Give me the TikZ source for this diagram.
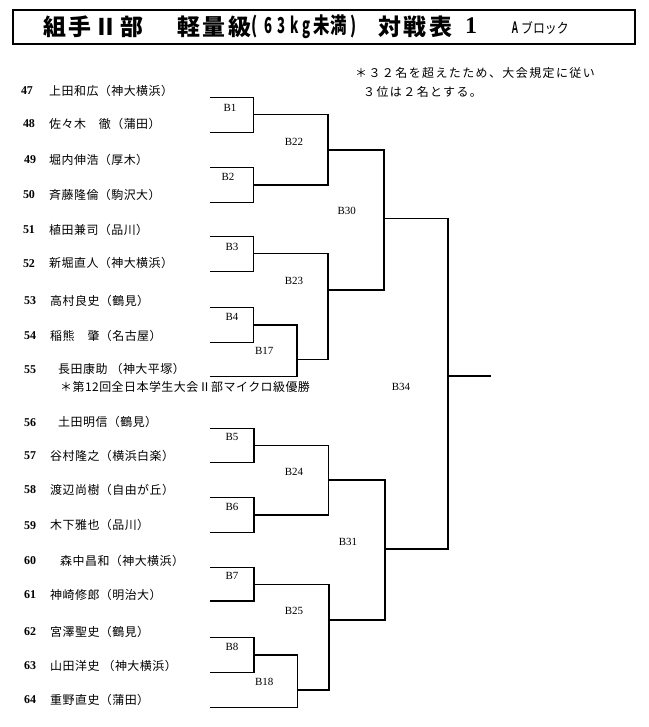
\documentclass[tikz,border=0pt]{standalone}
\usepackage{fontspec}
\setmainfont{Liberation Serif}
\newfontfamily\jp{Noto Sans CJK JP}[LetterSpace=4]
\newfontfamily\jpn{Noto Sans CJK JP}[LetterSpace=12]
\newfontfamily\jpt{Noto Sans CJK JP}[LetterSpace=12]
\newfontfamily\jpk{Noto Sans CJK JP}
\newfontfamily\lsans{Liberation Sans}
\begin{document}
\begin{tikzpicture}[x=1bp,y=-1bp,
  br/.style={line width=1.5bp, line join=miter, line cap=rect},
  num/.style={anchor=center, inner sep=0pt, font=\bfseries\fontsize{12}{12}\selectfont},
  nm/.style={anchor=west, inner sep=0pt, font=\jp\fontsize{12}{12}\selectfont},
  note/.style={anchor=west, inner sep=0pt, font=\jpn\fontsize{12}{12}\selectfont},
  lbl/.style={anchor=center, inner sep=0pt, font=\fontsize{11}{11}\selectfont},
  ttl/.style={anchor=base west, inner sep=0pt, font=\jpt\bfseries\fontsize{23}{23}\selectfont},
  ttg/.style={anchor=base, inner sep=0pt, font=\jpk\bfseries\fontsize{22}{22}\selectfont}]
\fill[white] (0,0) rectangle (649,727);
\useasboundingbox (0,0) rectangle (649,727);

% title
\node[draw, line width=1.8bp, minimum width=622bp, minimum height=34bp, inner sep=0pt] (titlebox) at (324,27) {};
\node[ttl] (t1) at (43,35.5) {組手Ⅱ部};
\node[ttl] (t2) at (177,35.5) {軽量級};
\node[ttg] (t3a) at (255,34) {\scalebox{0.7}[1]{(}};
\node[ttg] (t3b) at (268.5,34) {\scalebox{0.6}[1]{6}};
\node[ttg] (t3c) at (281.5,34) {\scalebox{0.6}[1]{3}};
\node[ttg] (t3d) at (295,34) {\scalebox{0.6}[1]{k}};
\node[ttg] (t3e) at (306.5,34) {\scalebox{0.6}[1]{g}};
\node[ttg] (t3f) at (330,34) {\scalebox{0.75}[1]{未満}};
\node[ttg] (t3g) at (354,34) {\scalebox{0.7}[1]{)}};
\node[ttl] (t4) at (378,35.5) {対戦表};
\node[anchor=base, inner sep=0pt, font=\bfseries\fontsize{24}{24}\selectfont] (t5) at (471,34) {1};
\node[anchor=base, inner sep=0pt, font=\lsans\bfseries\fontsize{17}{17}\selectfont] (t6) at (515,33.5) {\scalebox{0.55}[1]{A}};
\node[anchor=base west, inner sep=0pt, font=\jpk\fontsize{14}{14}\selectfont] (t7) at (521,33.5) {\scalebox{0.85}[1]{ブロック}};

% top-right note
\node[note] (nt1) at (355,73) {＊３２名を超えたため、大会規定に従い};
\node[note] (nt2) at (363,92) {３位は２名とする。};

% entries
\node[num] (n47) at (27,90.7) {47}; \node[nm] (p47) at (49,90.7) {上田和広（神大横浜）};
\node[num] (n48) at (29,124) {48}; \node[nm] (p48) at (49,124) {佐々木　徹（蒲田）};
\node[num] (n49) at (30,160) {49}; \node[nm] (p49) at (49,160) {堀内伸浩（厚木）};
\node[num] (n50) at (29,195) {50}; \node[nm] (p50) at (49,195) {斉藤隆倫（駒沢大）};
\node[num] (n51) at (29,230) {51}; \node[nm] (p51) at (49,230) {植田兼司（品川）};
\node[num] (n52) at (29,263.3) {52}; \node[nm] (p52) at (49,263.3) {新堀直人（神大横浜）};
\node[num] (n53) at (30,300.7) {53}; \node[nm] (p53) at (50,300.7) {高村良史（鶴見）};
\node[num] (n54) at (30,336) {54}; \node[nm] (p54) at (50,336) {稲熊　肇（名古屋）};
\node[num] (n55) at (30,369.3) {55}; \node[nm] (p55) at (58,369.3) {長田康助 （神大平塚）};
\node[nm] (p55n) at (60,386.7) {＊第12回全日本学生大会Ⅱ部マイクロ級優勝};
\node[num] (n56) at (30,422.3) {56}; \node[nm] (p56) at (58,422.3) {土田明信（鶴見）};
\node[num] (n57) at (30,455.7) {57}; \node[nm] (p57) at (50,455.7) {谷村隆之（横浜白楽）};
\node[num] (n58) at (30,490) {58}; \node[nm] (p58) at (50,490) {渡辺尚樹（自由が丘）};
\node[num] (n59) at (30,525.3) {59}; \node[nm] (p59) at (50,525.3) {木下雅也（品川）};
\node[num] (n60) at (30,561) {60}; \node[nm] (p60) at (60,561) {森中昌和（神大横浜）};
\node[num] (n61) at (30,595) {61}; \node[nm] (p61) at (50,595) {神崎修郎（明治大）};
\node[num] (n62) at (30,631.7) {62}; \node[nm] (p62) at (50,631.7) {宮澤聖史（鶴見）};
\node[num] (n63) at (30,665.7) {63}; \node[nm] (p63) at (50,665.7) {山田洋史 （神大横浜）};
\node[num] (n64) at (30,700) {64}; \node[nm] (p64) at (50,700) {重野直史（蒲田）};

% bracket coordinates
\coordinate (B1t) at (211,97.3);  \coordinate (B1b) at (211,132.3); \coordinate (B1o) at (253.5,114.7);
\coordinate (B2t) at (211,167.7); \coordinate (B2b) at (211,202.3); \coordinate (B2o) at (253.5,185);
\coordinate (B3t) at (211,236.7); \coordinate (B3b) at (211,271.7); \coordinate (B3o) at (253.5,253.3);
\coordinate (B4t) at (211,307.7); \coordinate (B4b) at (211,342.3); \coordinate (B4o) at (253.5,325);
\coordinate (B17b) at (211,376.7); \coordinate (B17o) at (297,359.3);
\coordinate (B22o) at (328,150);
\coordinate (B23o) at (328,290);
\coordinate (B30o) at (384,218.3);
\coordinate (B5t) at (211,428.3); \coordinate (B5b) at (211,462.7); \coordinate (B5o) at (254,445.7);
\coordinate (B6t) at (211,497.7); \coordinate (B6b) at (211,532.7); \coordinate (B6o) at (254,515);
\coordinate (B7t) at (211,567.3); \coordinate (B7b) at (211,601);   \coordinate (B7o) at (254,584.3);
\coordinate (B8t) at (211,637.7); \coordinate (B8b) at (211,672.7); \coordinate (B8o) at (254,655);
\coordinate (B18b) at (211,707.3); \coordinate (B18o) at (297.5,690);
\coordinate (B24o) at (328.5,480);
\coordinate (B25o) at (329,620);
\coordinate (B31o) at (385,549);
\coordinate (B34o) at (448,376);
\coordinate (win) at (490,376);

% bracket lines
\draw[br] (B1t) -| (B1o) |- (B1b);
\draw[br] (B2t) -| (B2o) |- (B2b);
\draw[br] (B3t) -| (B3o) |- (B3b);
\draw[br] (B4t) -| (B4o) |- (B4b);
\draw[br] (B4o) -| (B17o) |- (B17b);
\draw[br] (B1o) -| (B22o) |- (B2o);
\draw[br] (B3o) -| (B23o) |- (B17o);
\draw[br] (B22o) -| (B30o) |- (B23o);
\draw[br] (B5t) -| (B5o) |- (B5b);
\draw[br] (B6t) -| (B6o) |- (B6b);
\draw[br] (B7t) -| (B7o) |- (B7b);
\draw[br] (B8t) -| (B8o) |- (B8b);
\draw[br] (B8o) -| (B18o) |- (B18b);
\draw[br] (B5o) -| (B24o) |- (B6o);
\draw[br] (B7o) -| (B25o) |- (B18o);
\draw[br] (B24o) -| (B31o) |- (B25o);
\draw[br] (B30o) -| (B34o) |- (B31o);
\draw[br] (B34o) -- (win);

% match labels
\node[lbl] (lB1) at (230,108.3) {B1};
\node[lbl] (lB2) at (228,177) {B2};
\node[lbl] (lB3) at (232,246.7) {B3};
\node[lbl] (lB4) at (232,317.3) {B4};
\node[lbl] (lB17) at (264.3,350.7) {B17};
\node[lbl] (lB22) at (294,141.7) {B22};
\node[lbl] (lB23) at (294,280.7) {B23};
\node[lbl] (lB30) at (346.7,211) {B30};
\node[lbl] (lB34) at (401,386.7) {B34};
\node[lbl] (lB5) at (232,437.3) {B5};
\node[lbl] (lB6) at (232,506.7) {B6};
\node[lbl] (lB7) at (232,576) {B7};
\node[lbl] (lB8) at (232,646.7) {B8};
\node[lbl] (lB18) at (264.3,682.3) {B18};
\node[lbl] (lB24) at (294,472.3) {B24};
\node[lbl] (lB25) at (294,610.7) {B25};
\node[lbl] (lB31) at (348,541.7) {B31};
\end{tikzpicture}
\end{document}
